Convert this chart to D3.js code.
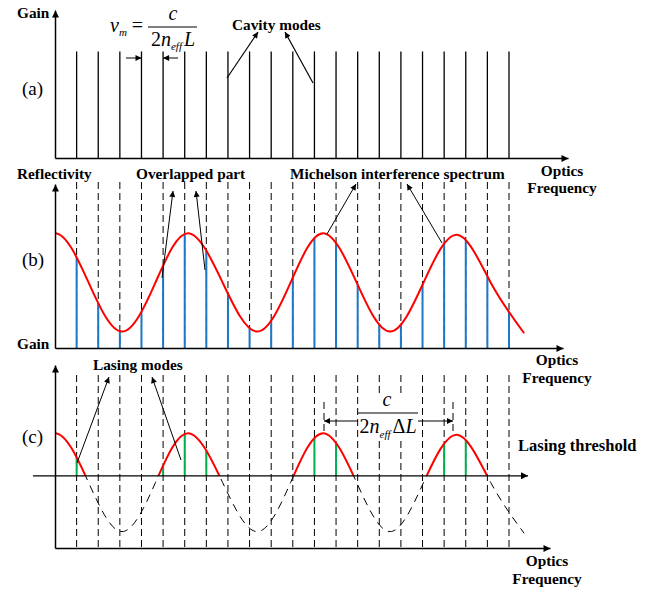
<!DOCTYPE html>
<html>
<head>
<meta charset="utf-8">
<script src="https://cdn.jsdelivr.net/npm/d3@7"></script>
<style>
  body { margin: 0; background: #fff; }
  text { font-family: "Liberation Serif", "Times New Roman", serif; fill: #000; }
  .lbl { font-weight: bold; font-size: 15.3px; }
  .panel { font-size: 19px; }
  .domain { stroke: #000; stroke-width: 1.5px; }
</style>
</head>
<body>
<svg id="chart" width="657" height="592"></svg>
<script>
// cavity mode frequencies (in units of the mode spacing c / 2 n_eff L)
var modeFreq = [1, 2, 3, 4, 5, 6, 7, 8, 9, 10, 11, 12, 13, 14, 15, 16, 17, 18, 19, 20, 21];
var modeGain = 0.72;

// Michelson interference spectrum, read at its extremes and mid points
// (first point lies left of the gain axis and is clipped away)
var spectrumFreq  = [-1.55, 0, 1.55, 3.1, 4.65, 6.15, 7.75, 9.35, 10.9, 12.4, 13.95, 15.5, 17.05, 18.6, 20.15, 21.7];
var spectrumLevel = [0.40, 0.70, 0.40, 0.10, 0.40, 0.70, 0.40, 0.10, 0.40, 0.70, 0.40, 0.10, 0.40, 0.69, 0.40, 0.09];

var threshold = 0.44;

var svg = d3.select('#chart');
var defs = svg.append('defs');

function marker(id, w, h) {
  defs.append('marker')
    .attr('id', id)
    .attr('viewBox', '0 0 10 10')
    .attr('refX', 10).attr('refY', 5)
    .attr('markerWidth', w).attr('markerHeight', h)
    .attr('markerUnits', 'userSpaceOnUse')
    .attr('orient', 'auto-start-reverse')
    .append('path').attr('d', 'M0,0L10,5L0,10z').attr('fill', '#000');
}
marker('arr', 9, 7);
marker('arrS', 8, 6);

var x = d3.scaleLinear().domain([0, 21]).range([55, 509]);

var yA = d3.scaleLinear().domain([0, 1]).range([158, 10]);
var yB = d3.scaleLinear().domain([0, 1]).range([348, 184]);
var yC = d3.scaleLinear().domain([0, 1]).range([548, 384]);

var spectrum = spectrumFreq.map(function(f, i) { return {f: f, v: spectrumLevel[i]}; });

function xAxis(g, y0, xEnd) {
  var s = x.copy().domain([0, x.invert(xEnd)]).range([x(0), xEnd]);
  g.append('g')
    .attr('transform', 'translate(0,' + y0 + ')')
    .call(d3.axisBottom(s).tickValues([]).tickSizeOuter(0))
    .select('.domain').attr('marker-end', 'url(#arr)');
}
function yAxis(g, yScale, yTop) {
  var s = yScale.copy().domain([0, yScale.invert(yTop)]).range([yScale(0), yTop]);
  g.append('g')
    .attr('transform', 'translate(' + x(0) + ',0)')
    .call(d3.axisLeft(s).tickValues([]).tickSizeOuter(0))
    .select('.domain').attr('marker-end', 'url(#arr)');
}

function arrow(x1, y1, x2, y2, w) {
  svg.append('line')
    .attr('x1', x1).attr('y1', y1).attr('x2', x2).attr('y2', y2)
    .attr('stroke', '#000').attr('stroke-width', w || 1)
    .attr('marker-end', 'url(#arrS)');
}

function label(txt, xx, yy, cls, anchor) {
  return svg.append('text').attr('x', xx).attr('y', yy)
    .attr('class', cls || 'lbl')
    .attr('text-anchor', anchor || 'start')
    .text(txt);
}

// y value of a drawn path at a screen x
function pathYAt(node, px) {
  var len = node.getTotalLength(), lo = 0, hi = len, p;
  for (var i = 0; i < 40; i++) {
    var mid = (lo + hi) / 2;
    p = node.getPointAtLength(mid);
    if (p.x < px) lo = mid; else hi = mid;
  }
  return node.getPointAtLength((lo + hi) / 2).y;
}

defs.append('clipPath').attr('id', 'plotB').append('rect')
  .attr('x', x(0)).attr('y', 0).attr('width', 657).attr('height', 592);

// ---------- (a) cavity modes ----------
var gA = svg.append('g');
gA.selectAll('.mode').data(modeFreq).enter().append('line')
  .attr('x1', function(d) { return x(d); }).attr('x2', function(d) { return x(d); })
  .attr('y1', yA(0)).attr('y2', yA(modeGain))
  .attr('stroke', '#000').attr('stroke-width', 1.3);
xAxis(gA, yA(0), 568);
yAxis(gA, yA, 10);

label('Gain', 17, 18);
label('(a)', 22, 95, 'panel');
label('Cavity modes', 232, 30);
arrow(227, 78, 258, 32, 1.2);
arrow(313, 83, 285, 32, 1.2);
label('Optics', 562, 176, 'lbl', 'middle');
label('Frequency', 562, 193, 'lbl', 'middle');

// formula v_m = c / 2 n_eff L
var fa = svg.append('text').attr('x', 110).attr('y', 32).attr('font-size', 20);
fa.append('tspan').attr('font-style', 'italic').text('v');
fa.append('tspan').attr('font-style', 'italic').attr('font-size', 11).attr('dy', 4).text('m');
fa.append('tspan').attr('dy', -4).attr('dx', 5).text('=');
svg.append('text').attr('x', 173).attr('y', 20).attr('font-size', 20)
  .attr('font-style', 'italic').attr('text-anchor', 'middle').text('c');
svg.append('line').attr('x1', 148).attr('x2', 197).attr('y1', 27).attr('y2', 27)
  .attr('stroke', '#000').attr('stroke-width', 1);
var fb = svg.append('text').attr('x', 173).attr('y', 46).attr('font-size', 20).attr('text-anchor', 'middle');
fb.append('tspan').text('2');
fb.append('tspan').attr('font-style', 'italic').text('n');
fb.append('tspan').attr('font-style', 'italic').attr('font-size', 11).attr('dy', 4).text('eff');
fb.append('tspan').attr('font-style', 'italic').attr('dy', -4).attr('dx', 2).text('L');
arrow(126, 58, x(4), 58, 1);
arrow(178, 58, x(5), 58, 1);

// ---------- (b) Michelson spectrum ----------
var gB = svg.append('g');
gB.selectAll('.dash').data(modeFreq).enter().append('line')
  .attr('x1', function(d) { return x(d); }).attr('x2', function(d) { return x(d); })
  .attr('y1', 182).attr('y2', yB(0))
  .attr('stroke', '#000').attr('stroke-width', 1).attr('stroke-dasharray', '7,4');

var lineB = d3.line().x(function(d) { return x(d.f); }).y(function(d) { return yB(d.v); })
  .curve(d3.curveNatural);
var pathB = gB.append('path').datum(spectrum).attr('d', lineB)
  .attr('fill', 'none').attr('stroke', '#ff0000').attr('stroke-width', 2)
  .attr('clip-path', 'url(#plotB)');

gB.selectAll('.blue').data(modeFreq).enter().append('line')
  .attr('x1', function(d) { return x(d); }).attr('x2', function(d) { return x(d); })
  .attr('y1', yB(0)).attr('y2', function(d) { return pathYAt(pathB.node(), x(d)); })
  .attr('stroke', '#1a78c8').attr('stroke-width', 2);
pathB.raise();

xAxis(gB, yB(0), 563);
yAxis(gB, yB, 184);

label('Reflectivity', 17, 179);
label('Gain', 17, 349);
label('(b)', 22, 266, 'panel');
label('Overlapped part', 136, 179);
label('Michelson interference spectrum', 290, 179);
arrow(162, 278, 173, 191);
arrow(205, 270, 196, 191);
arrow(327, 234, 356, 184);
arrow(442, 243, 407, 184);
label('Optics', 557, 365, 'lbl', 'middle');
label('Frequency', 557, 383, 'lbl', 'middle');

// ---------- (c) lasing modes ----------
var gC = svg.append('g');
var yT = yC(threshold);
gC.selectAll('.dash').data(modeFreq).enter().append('line')
  .attr('x1', function(d) { return x(d); }).attr('x2', function(d) { return x(d); })
  .attr('y1', 375).attr('y2', yC(0))
  .attr('stroke', '#000').attr('stroke-width', 1).attr('stroke-dasharray', '7,4');

defs.append('clipPath').attr('id', 'above').append('rect')
  .attr('x', x(0)).attr('y', 0).attr('width', 657).attr('height', yT);
defs.append('clipPath').attr('id', 'below').append('rect')
  .attr('x', x(0)).attr('y', yT).attr('width', 657).attr('height', 592 - yT);

var lineC = d3.line().x(function(d) { return x(d.f); }).y(function(d) { return yC(d.v); })
  .curve(d3.curveNatural);
var pathC = gC.append('path').datum(spectrum).attr('d', lineC)
  .attr('fill', 'none').attr('stroke', '#000').attr('stroke-width', 1)
  .attr('stroke-dasharray', '8,6').attr('clip-path', 'url(#below)');

var lasing = modeFreq.filter(function(d) { return pathYAt(pathC.node(), x(d)) < yT; });
gC.selectAll('.green').data(lasing).enter().append('line')
  .attr('x1', function(d) { return x(d); }).attr('x2', function(d) { return x(d); })
  .attr('y1', yT).attr('y2', function(d) { return pathYAt(pathC.node(), x(d)); })
  .attr('stroke', '#00b050').attr('stroke-width', 2);

gC.append('path').datum(spectrum).attr('d', lineC)
  .attr('fill', 'none').attr('stroke', '#ff0000').attr('stroke-width', 2)
  .attr('clip-path', 'url(#above)');

// threshold line
gC.append('line').attr('x1', 33).attr('x2', 528).attr('y1', yT).attr('y2', yT)
  .attr('stroke', '#000').attr('stroke-width', 1.3).attr('marker-end', 'url(#arr)');

xAxis(gC, yC(0), 550);
yAxis(gC, yC, 365);

label('(c)', 22, 443, 'panel');
label('Lasing modes', 93, 370);
arrow(77, 463, 109, 377);
arrow(181, 460, 152, 377);
label('Lasing threshold', 518, 451).style('font-size', '16.5px');
label('Optics', 547, 566, 'lbl', 'middle');
label('Frequency', 547, 584, 'lbl', 'middle');

// period marker c / 2 n_eff dL
svg.append('rect').attr('x', 360).attr('y', 393).attr('width', 56).attr('height', 47)
  .attr('fill', '#fff');
svg.append('line').attr('x1', 324).attr('x2', 324).attr('y1', 402).attr('y2', 432)
  .attr('stroke', '#000').attr('stroke-width', 1).attr('stroke-dasharray', '7,4');
svg.append('line').attr('x1', 453).attr('x2', 453).attr('y1', 402).attr('y2', 432)
  .attr('stroke', '#000').attr('stroke-width', 1).attr('stroke-dasharray', '7,4');
arrow(358, 421, 324, 421);
arrow(418, 421, 453, 421);
svg.append('text').attr('x', 387).attr('y', 406).attr('font-size', 20)
  .attr('font-style', 'italic').attr('text-anchor', 'middle').text('c');
svg.append('line').attr('x1', 358).attr('x2', 418).attr('y1', 413).attr('y2', 413)
  .attr('stroke', '#000').attr('stroke-width', 1);
var fc = svg.append('text').attr('x', 388).attr('y', 433).attr('font-size', 20).attr('text-anchor', 'middle');
fc.append('tspan').text('2');
fc.append('tspan').attr('font-style', 'italic').text('n');
fc.append('tspan').attr('font-style', 'italic').attr('font-size', 11).attr('dy', 5).text('eff');
fc.append('tspan').attr('dy', -5).attr('dx', 2).text('\u0394');
fc.append('tspan').attr('font-style', 'italic').text('L');
</script>
</body>
</html>
